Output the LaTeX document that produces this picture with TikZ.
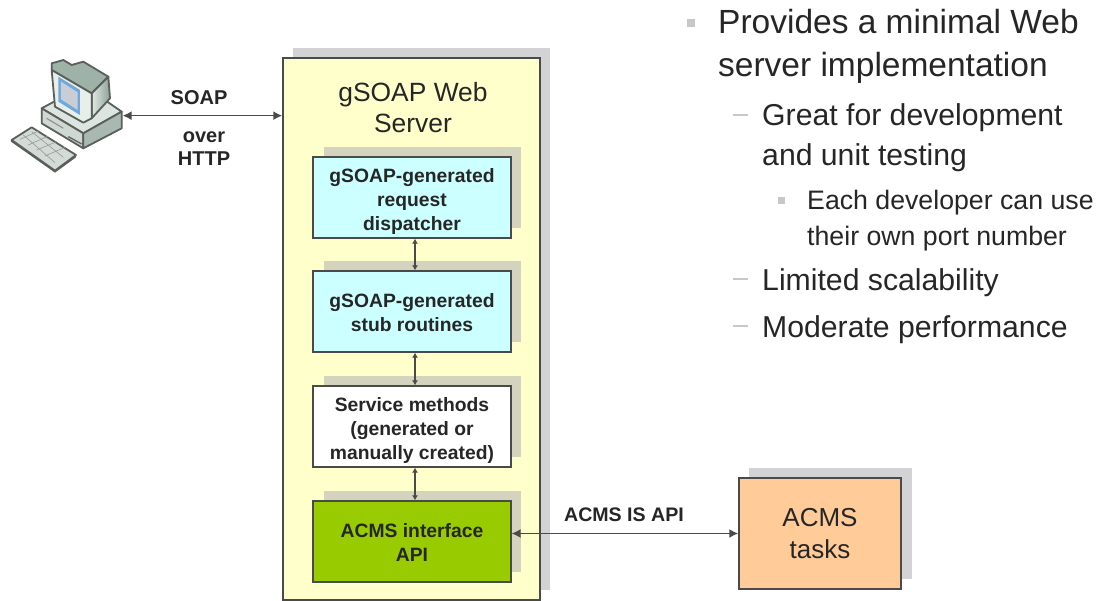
\documentclass[tikz,border=0pt]{standalone}
\usepackage{fontspec}
\setmainfont{Liberation Sans}
\usetikzlibrary{arrows.meta}
\definecolor{txt}{HTML}{262626}
\definecolor{edge}{HTML}{4A4A4A}
\definecolor{shadeout}{HTML}{D3D3D5}
\definecolor{shadein}{HTML}{D3D3BE}
\definecolor{srvfill}{HTML}{FFFFCC}
\definecolor{cyanfill}{HTML}{CCFFFF}
\definecolor{greenfill}{HTML}{99CC00}
\definecolor{orangefill}{HTML}{FFCC99}
\definecolor{dashc}{HTML}{C8C8C8}
\definecolor{pcedge}{HTML}{5A5F5C}
\definecolor{pckey}{HTML}{D3DBD6}
\definecolor{pctop}{HTML}{DDE5E0}
\definecolor{pcleft}{HTML}{CFD8D3}
\definecolor{pcright}{HTML}{A9B8B0}
\definecolor{pcmon}{HTML}{9FB2A8}
\definecolor{pcsidea}{HTML}{E2E8E4}
\definecolor{pcsideb}{HTML}{8EA196}
\definecolor{pcfront}{HTML}{E8EEEA}
\definecolor{pcscreen}{HTML}{6FA8DC}
\definecolor{pcglass}{HTML}{C9CDD6}
\newcommand{\fs}[2]{\fontsize{#1}{#2}\selectfont}
\newcommand{\dn}[1]{\rule{0pt}{#1pt}}
\tikzset{
  x=1pt,y=-1pt,
  inbox/.style={draw=edge,line width=1.3pt,minimum width=198pt,minimum height=81pt,inner sep=0pt,align=center,text=txt,font=\fs{19.3}{24}\bfseries},
  lbl/.style={inner sep=0pt,align=center,text=txt},
  bul/.style={inner sep=0pt,align=left,anchor=north west,text=txt},
  link/.style={draw=edge,line width=1.5pt,{Latex[length=9pt,width=9pt]}-{Latex[length=9pt,width=9pt]}},
  vlink/.style={draw=edge,line width=1.3pt,{Latex[length=5pt,width=6pt]}-{Latex[length=5pt,width=6pt]}},
  pcline/.style={draw=pcedge,line width=1.8pt,line join=round},
}
\begin{document}
\begin{tikzpicture}
\useasboundingbox (0,0) rectangle (1100,601);
\fill[white] (0,0) rectangle (1100,601);
% server
\fill[shadeout] (293,48) rectangle (550,590);
\node[draw=edge,line width=1.5pt,fill=srvfill,minimum width=257pt,minimum height=542pt,inner sep=0pt] (srv) at (411.5,329) {};
\node[lbl,font=\fs{26.4}{31}] (srvt) at (413,108) {gSOAP Web\\Server};
% inner shadows
\foreach \yy in {147,261,376,491}{\fill[shadein] (324,\yy) rectangle (521,\yy+81);}
\node[inbox,fill=cyanfill] (disp) at (412,197.5) {\dn{22}gSOAP-generated\\request\\dispatcher};
\node[inbox,fill=cyanfill] (stub) at (412,311.5) {\dn{17}gSOAP-generated\\stub routines};
\node[inbox,fill=white] (svc) at (412,426.5) {\dn{22}Service methods\\(generated or\\manually created)};
\node[inbox,fill=greenfill] (api) at (412,541.5) {\dn{16}ACMS interface\\API};
% tasks
\fill[shadeout] (749,468) rectangle (912,579);
\node[draw=edge,line width=1.5pt,fill=orangefill,minimum width=162pt,minimum height=111pt,inner sep=0pt,align=center,text=txt,font=\fs{26}{32}] (tasks) at (820,533.5) {ACMS\\tasks};
% computer
\begin{scope}[shift={(0,40)},x=0.3333pt,y=-0.3333pt]
 \filldraw[pcline,fill=pckey] (35,300) -- (95,262) -- (228,345) -- (165,392) -- cycle;
 \draw[black!40,line width=.6pt] (60,298) -- (118,272) (85,315) -- (145,288) (110,330) -- (170,305) (135,348) -- (195,322)
   (70,285) -- (165,368) (95,275) -- (190,352);
 \fill[pcedge] (33,298) -- (165,392) -- (228,345) -- (228,352) -- (165,398) -- (33,305) -- cycle;
 \filldraw[pcline,fill=pctop] (125,205) -- (190,170) -- (300,170) -- (365,215) -- (250,280) -- cycle;
 \filldraw[pcline,fill=pcleft] (125,205) -- (250,280) -- (250,325) -- (125,250) -- cycle;
 \filldraw[pcline,fill=pcright] (250,280) -- (365,215) -- (365,265) -- (250,325) -- cycle;
 \draw[black!60,line width=1.4pt] (205,290) -- (245,312);
 \draw[black!45,line width=1pt] (140,235) -- (190,265);
 \filldraw[pcline,fill=pcmon] (155,70) -- (190,60) -- (215,75) -- (250,65) -- (325,110) -- (275,160) -- (155,90) -- cycle;
 \filldraw[pcline,left color=pcsidea,right color=pcsideb] (275,160) -- (325,110) -- (330,175) -- (275,235) -- cycle;
 \filldraw[pcline,fill=pcfront] (155,90) -- (275,160) -- (275,235) -- (250,248) -- (165,200) -- cycle;
 \fill[pcscreen] (175,110) -- (240,150) -- (240,225) -- (175,185) -- cycle;
 \fill[pcglass] (183,125) -- (233,157) -- (233,210) -- (183,178) -- cycle;
 \coordinate (pc) at (368,227);
\end{scope}
% connectors
\draw[link] (pc) -- (srv.west |- pc) coordinate (srvport);
\draw[vlink] ([xshift=3pt]disp.south) -- ([xshift=3pt]stub.north);
\draw[vlink] ([xshift=3pt]stub.south) -- ([xshift=3pt]svc.north);
\draw[vlink] ([xshift=3pt]svc.south) -- ([xshift=3pt]api.north);
\draw[link] ([yshift=8pt]api.east) -- (tasks.west);
\node[lbl,font=\fs{20}{23}\bfseries] (soap) at (199,98) {SOAP};
\node[lbl,font=\fs{20}{23}\bfseries] (http) at (204,149) {over\\HTTP};
\node[lbl,font=\fs{19.6}{22}\bfseries] (acmsis) at (624,515) {ACMS IS API};
% bullet text
\fill[dashc] (687,19) rectangle (695,27);
\node[bul,font=\fs{33.5}{43}] (b1) at (718,9) {Provides a minimal Web\\server implementation};
\fill[dashc] (733,114) rectangle (748,116);
\node[bul,font=\fs{30.2}{40}] (b2) at (762,103) {Great for development\\and unit testing};
\fill[dashc] (778,197) rectangle (785,204);
\node[bul,font=\fs{26.7}{36}] (b3) at (807,190) {Each developer can use\\their own port number};
\fill[dashc] (733,278) rectangle (748,280);
\node[bul,font=\fs{30.2}{42}] (b4) at (762,268) {Limited scalability};
\fill[dashc] (733,325) rectangle (748,327);
\node[bul,font=\fs{30.2}{42}] (b5) at (762,315) {Moderate performance};
\end{tikzpicture}
\end{document}
